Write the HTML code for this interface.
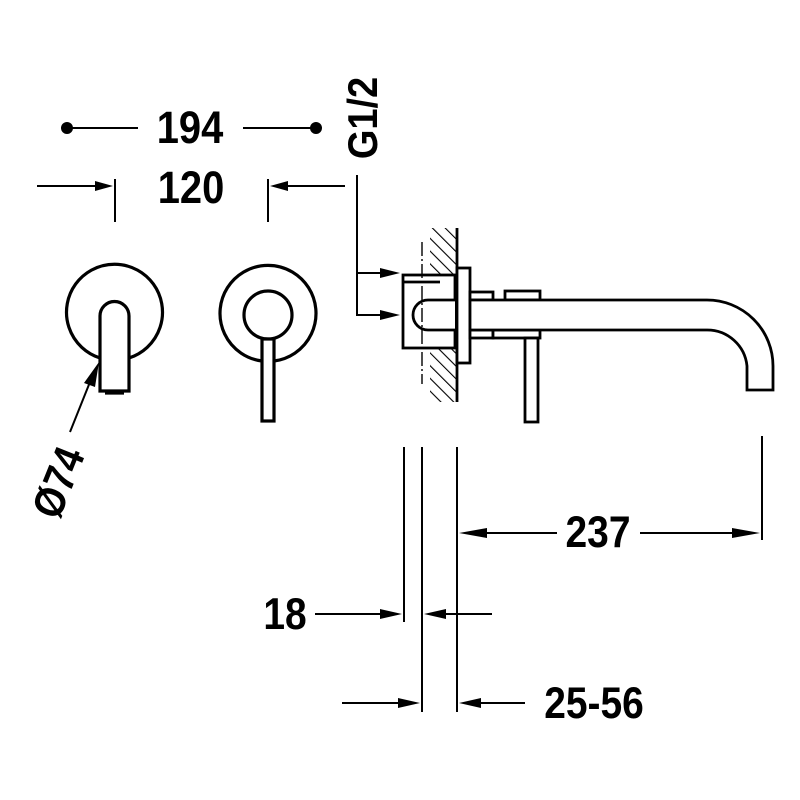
<!DOCTYPE html>
<html><head><meta charset="utf-8"><style>
html,body{margin:0;padding:0;background:#fff;}
svg{display:block;}
text{font-family:"Liberation Sans",sans-serif;font-weight:bold;fill:#000;}
</style></head><body>
<svg width="800" height="800" viewBox="0 0 800 800" xmlns="http://www.w3.org/2000/svg">
<defs>
<pattern id="h" patternUnits="userSpaceOnUse" width="9" height="9" patternTransform="rotate(-45)">
<line x1="0" y1="0" x2="0" y2="9" stroke="#000" stroke-width="2.2"/>
</pattern>
</defs>
<g stroke="#000" fill="none" stroke-width="2">
<line x1="67" y1="128" x2="138" y2="128"/>
<line x1="243" y1="128" x2="316" y2="128"/>
<line x1="37" y1="186" x2="100" y2="186"/>
<line x1="115" y1="179" x2="115" y2="222"/>
<line x1="268" y1="179" x2="268" y2="222"/>
<line x1="285" y1="186" x2="345" y2="186"/>
<polyline points="357,175 357,315 385,315"/>
<line x1="357" y1="273" x2="385" y2="273"/>
<line x1="70" y1="432" x2="90" y2="382"/>
<line x1="404" y1="447" x2="404" y2="622"/>
<line x1="422" y1="447" x2="422" y2="712"/>
<line x1="457" y1="447" x2="457" y2="712"/>
<line x1="762" y1="436" x2="762" y2="540"/>
<line x1="475" y1="533" x2="557" y2="533"/>
<line x1="640" y1="533" x2="745" y2="533"/>
<line x1="315" y1="614" x2="390" y2="614"/>
<line x1="437" y1="614" x2="492" y2="614"/>
<line x1="342" y1="703" x2="408" y2="703"/>
<line x1="472" y1="703" x2="525" y2="703"/>
</g>
<g fill="#000">
<circle cx="67" cy="128" r="6"/><circle cx="316" cy="128" r="6"/>
<polygon points="113,186 95,181 95,191"/>
<polygon points="270,186 288,181 288,191"/>
<polygon points="400,273 380,268 380,278"/>
<polygon points="400,315 380,310 380,320"/>
<polygon points="99,362 84,383 95,387"/>
<polygon points="459,533 487,528 487,538"/>
<polygon points="760,533 732,528 732,538"/>
<polygon points="402,614 380,609 380,619"/>
<polygon points="424,614 446,609 446,619"/>
<polygon points="420,703 398,698 398,708"/>
<polygon points="459,703 481,698 481,708"/>
</g>
<g stroke="#000" stroke-width="3.2" fill="none">
<path d="M100,358 A48,48 0 1 1 129,358"/>
<path d="M100,391 L100,316 A14.5,14.5 0 0 1 129,316 L129,391 Z" fill="#fff"/>
<line x1="105" y1="393" x2="124" y2="393"/>
<path d="M262,361 A48,48 0 1 1 274,361"/>
<circle cx="268" cy="315" r="24"/>
<rect x="262" y="339" width="12" height="82" fill="#fff"/>
</g>
<rect x="430" y="228" width="27" height="174" fill="url(#h)"/>
<g stroke="#000" stroke-width="2.8" fill="#fff">
<line x1="457" y1="228" x2="457" y2="402"/>
<rect x="403" y="275" width="52" height="73"/>
<line x1="403" y1="282" x2="440" y2="282"/>
<path d="M455,300 L428,300 A15,15 0 0 0 428,330 L455,330"/>
<rect x="457" y="268" width="13" height="95"/>
<rect x="470" y="292" width="23" height="8"/>
<rect x="470" y="330" width="23" height="8"/>
<rect x="505" y="291" width="35" height="9"/>
<rect x="493" y="330" width="47" height="8"/>
<rect x="525" y="338" width="13" height="84"/>
<path d="M470,300 L707,300 A66,66 0 0 1 773,366 L773,390 L747,390 L747,366 A40,40 0 0 0 707,330 L470,330 Z"/>
</g>
<line x1="422" y1="242" x2="422" y2="384" stroke="#000" stroke-width="1.4" stroke-dasharray="14,3,2,3"/>
<text transform="translate(190,143) scale(0.95,1.08)" font-size="42" text-anchor="middle">194</text>
<text transform="translate(191,203) scale(0.95,1.08)" font-size="42" text-anchor="middle">120</text>
<text transform="translate(377,118) rotate(-90) scale(0.95,1.05)" font-size="40" text-anchor="middle">G1/2</text>
<text transform="translate(72,488) rotate(-68) scale(0.95,1.08)" font-size="40" text-anchor="middle">Ø74</text>
<text transform="translate(598,547) scale(0.95,1.08)" font-size="41" text-anchor="middle">237</text>
<text transform="translate(285,629) scale(0.95,1.08)" font-size="41" text-anchor="middle">18</text>
<text transform="translate(594,718) scale(0.95,1.08)" font-size="41" text-anchor="middle">25-56</text>
</svg>
</body></html>
